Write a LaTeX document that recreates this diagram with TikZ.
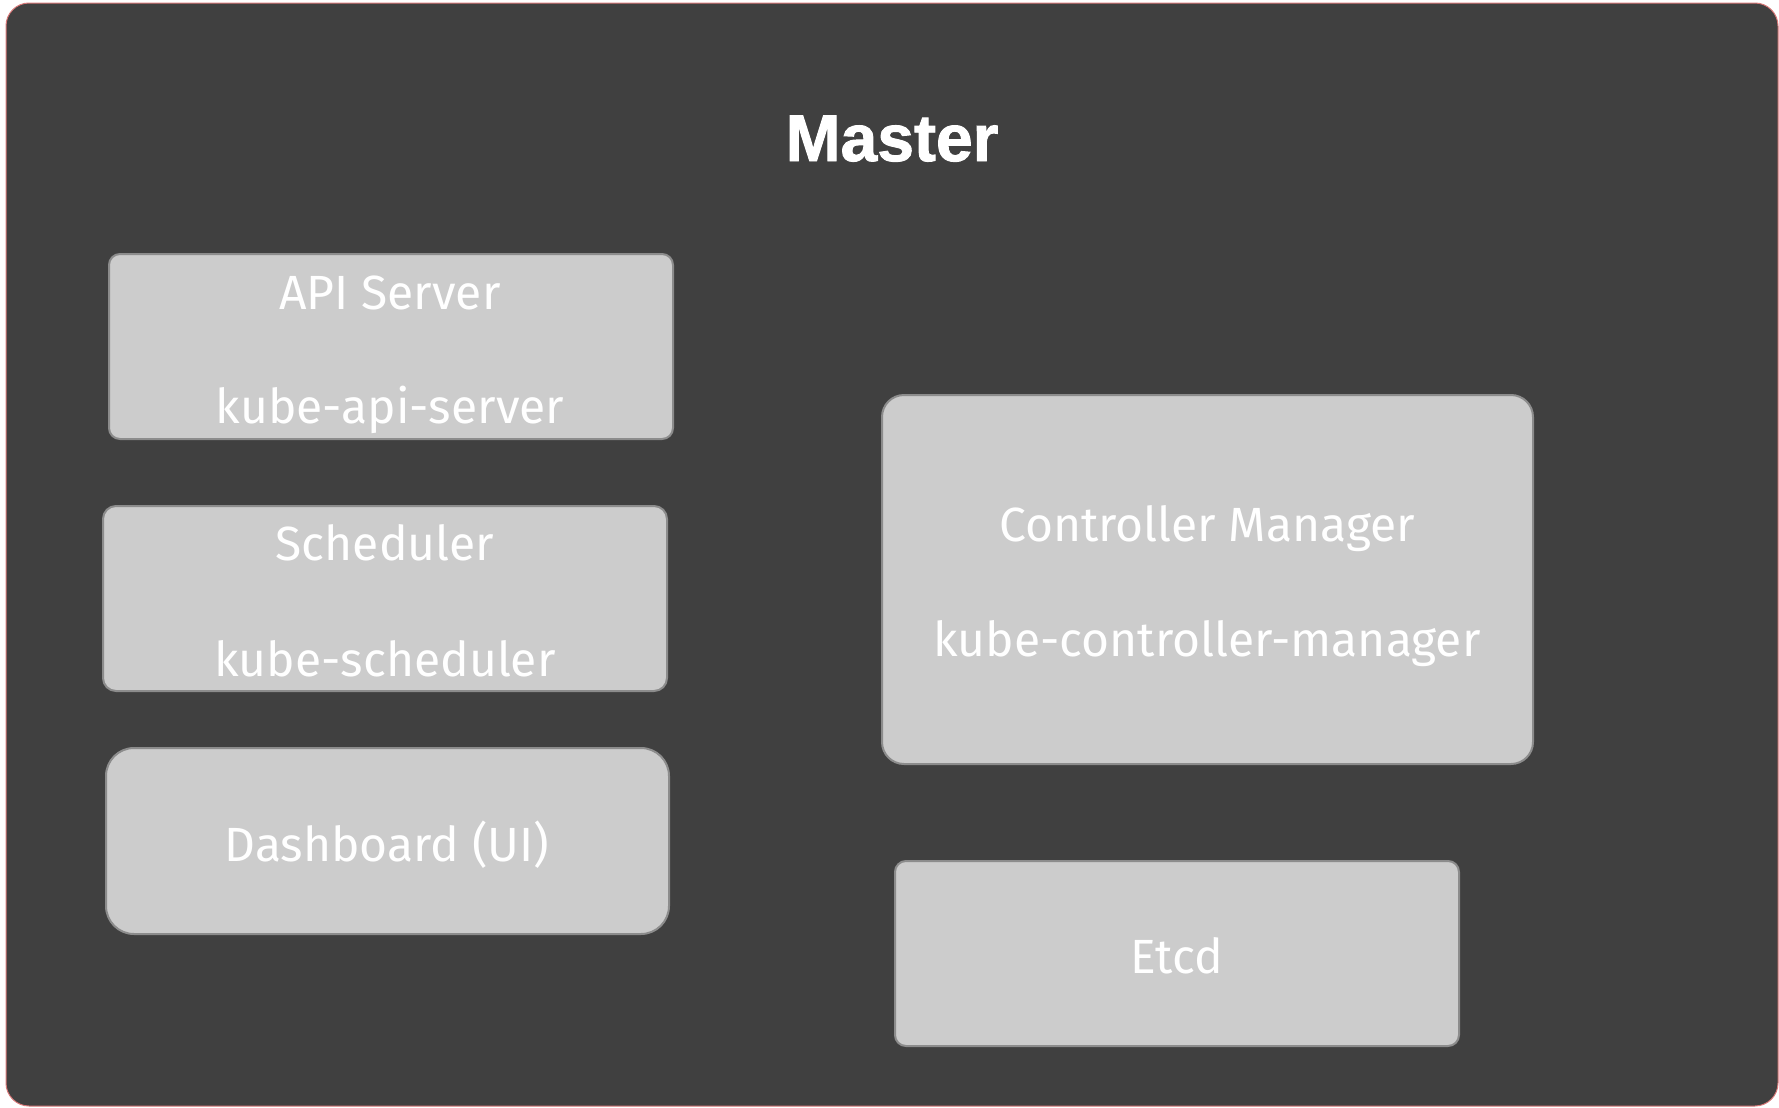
\documentclass[tikz,border=0pt]{standalone}
\usepackage{fontspec}
\setmainfont{Fira Sans}
\newfontfamily\titlefont[FakeBold=1.5]{Liberation Sans}
\begin{document}
\begin{tikzpicture}[x=0.5pt,y=-0.5pt,
  comp/.style={draw=boxline,fill=boxfill,line width=1pt,inner sep=0pt},
  lbl/.style={text=white,font=\fontsize{24}{28}\selectfont,anchor=base,inner sep=0pt}]
\definecolor{bg}{HTML}{404040}
\definecolor{boxfill}{HTML}{CCCCCC}
\definecolor{boxline}{HTML}{8C8C8C}
\definecolor{frameline}{HTML}{D87878}
\useasboundingbox (0,0) rectangle (1779,1108);
% outer master panel
\draw[fill=bg,draw=frameline,line width=0.5pt,rounded corners=11.5pt] (6,3) rectangle (1778,1106);
\node[text=white,font=\titlefont\bfseries\fontsize{33}{36}\selectfont,anchor=base,inner sep=0pt] (title) at (892,161) {Master};
% component boxes
\node[comp,rounded corners=5.5pt,minimum width=282pt,minimum height=92.5pt] (api) at (391,346.5) {};
\node[comp,rounded corners=6.5pt,minimum width=282pt,minimum height=92.5pt] (sched) at (385,598.5) {};
\node[comp,rounded corners=14pt,minimum width=281.5pt,minimum height=93pt] (dash) at (387.5,841) {};
\node[comp,rounded corners=11pt,minimum width=325.5pt,minimum height=184.5pt] (ctrl) at (1207.5,579.5) {};
\node[comp,rounded corners=5.5pt,minimum width=282pt,minimum height=92.5pt] (etcd) at (1177,953.5) {};
% labels
\node[lbl] (api1) at (390,309) {API Server};
\node[lbl] (api2) at (390,423) {kube-api-server};
\node[lbl] (sched1) at (385,560) {Scheduler};
\node[lbl] (sched2) at (385,676) {kube-scheduler};
\node[lbl] (dash1) at (387,861) {Dashboard (UI)};
\node[lbl] (ctrl1) at (1207,541) {Controller Manager};
\node[lbl] (ctrl2) at (1207,656) {kube-controller-manager};
\node[lbl] (etcd1) at (1177,973) {Etcd};
\end{tikzpicture}
\end{document}
